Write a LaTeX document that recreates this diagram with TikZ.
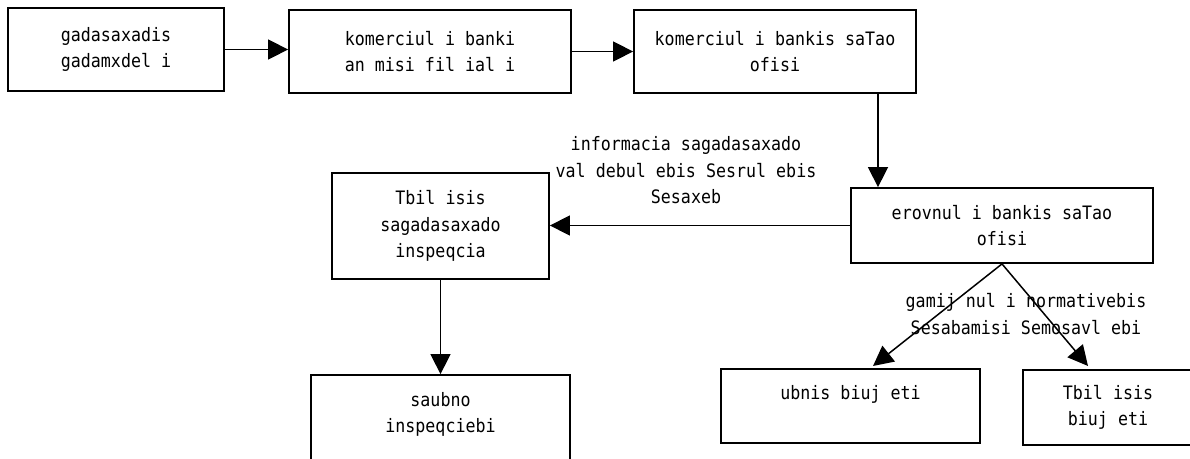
\documentclass[tikz,border=0pt]{standalone}
\usepackage{fontspec}
\setmainfont[FakeStretch=0.9]{DejaVu Sans Mono}
\usetikzlibrary{arrows.meta,calc}
\begin{document}
\begin{tikzpicture}[x=1pt,y=-1pt,
  every node/.style={font=\fontsize{18.5}{26.5}\selectfont, align=center, inner sep=0pt},
  boxnode/.style={draw, line width=1.8pt, rectangle},
  arr/.style={line width=1.5pt, -{Triangle[length=20pt,width=20pt]}},
  lbl/.style={}]
\useasboundingbox (0,0) rectangle (1190,458);
\clip (0,0) rectangle (1190,458);
% boxes
\node[boxnode, minimum width=216pt, minimum height=83pt] (b1) at (116,49.5) {gadasaxadis\\gadamxdel i};
\node[boxnode, minimum width=282pt, minimum height=83pt] (b2) at (430,51.5) {komerciul i banki\\an misi fil ial i};
\node[boxnode, minimum width=282pt, minimum height=83pt] (b3) at (775,51.5) {komerciul i bankis saTao\\ofisi};
\node[boxnode, minimum width=302pt, minimum height=75pt] (nb) at (1002,225.5) {erovnul i bankis saTao\\ofisi};
\node[boxnode, minimum width=217pt, minimum height=106pt] (ts) at (440.5,226) {Tbil isis\\sagadasaxado\\inspeqcia};
\node[boxnode, minimum width=259pt, minimum height=110pt] (sb) at (440.5,430) {};
\node (sbt) at (440.5,414.5) {saubno\\inspeqciebi};
\node[boxnode, minimum width=259pt, minimum height=74pt] (ub) at (850.5,406) {ubnis biuj eti\\\mbox{}};
\node[boxnode, minimum width=170pt, minimum height=75pt] (tb) at (1108,407.5) {Tbil isis\\biuj eti};
% labels
\node[lbl] (l1) at (686,170.5) {informacia sagadasaxado\\val debul ebis Sesrul ebis\\Sesaxeb};
\node[lbl] (l2) at (1026,314) {gamij nul i normativebis\\Sesabamisi Semosavl ebi};
% coordinates
\coordinate (cx) at (878,0);
\coordinate (tipL) at (873,366);
\coordinate (tipR) at (1088,366);
% connectors
\draw[arr] (b1.east) -- (b1.east -| b2.west);
\draw[arr] (b2.east) -- (b2.east -| b3.west);
\draw[arr] (b3.south -| cx) -- (nb.north -| cx);
\draw[arr] (nb.west) -- (nb.west -| ts.east);
\draw[arr] (ts.south) -- (ts.south |- sb.north);
\draw[arr] (nb.south) -- (tipL);
\draw[arr] (nb.south) -- (tipR);
\end{tikzpicture}
\end{document}
